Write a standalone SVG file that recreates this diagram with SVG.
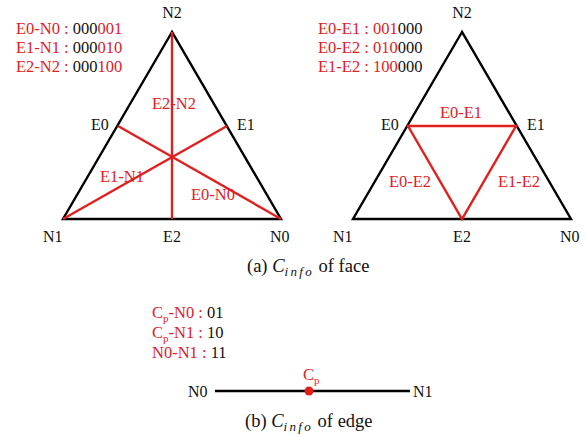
<svg xmlns="http://www.w3.org/2000/svg" width="587" height="435" viewBox="0 0 587 435" font-family="Liberation Serif, serif" font-size="16.5">
<style>
text{fill:#111}
.r{fill:#e0201f}
.k{fill:#111}
.m{text-anchor:middle}
.v{font-size:16px}
.cap{font-size:18.5px}
.tri{fill:none;stroke:#000;stroke-width:2.4;stroke-linejoin:miter}
.rl{stroke:#e0201f;stroke-width:2.4;fill:none}
.it{font-style:italic}
.sub{font-style:italic;font-size:13px;letter-spacing:2.3px}
</style>
<rect width="587" height="435" fill="#fff"/>
<g id="face-a">
  <polygon class="tri" points="172,32 63,219 281,219"/>
  <g id="connectors-a">
    <line class="rl" x1="172" y1="32" x2="172" y2="219"/>
    <line class="rl" x1="118" y1="126" x2="281" y2="219"/>
    <line class="rl" x1="227" y1="126" x2="63" y2="219"/>
  </g>
  <g id="labels-a">
    <text class="m v" x="172" y="18">N2</text>
    <text class="v" x="91" y="130">E0</text>
    <text class="v" x="237" y="130">E1</text>
    <text class="v" x="43" y="242">N1</text>
    <text class="m v" x="172" y="242">E2</text>
    <text class="v" x="270" y="242">N0</text>
    <text class="r m" x="174" y="109">E2-N2</text>
    <text class="r m" x="122" y="182">E1-N1</text>
    <text class="r m" x="213" y="200">E0-N0</text>
  </g>
  <g id="legend-a">
    <text x="16" y="34"><tspan class="r">E0-N0 : </tspan><tspan class="k">000</tspan><tspan class="r">001</tspan></text>
    <text x="16" y="53"><tspan class="r">E1-N1 : </tspan><tspan class="k">000</tspan><tspan class="r">010</tspan></text>
    <text x="16" y="72"><tspan class="r">E2-N2 : </tspan><tspan class="k">000</tspan><tspan class="r">100</tspan></text>
  </g>
</g>
<g id="face-b">
  <polygon class="tri" points="462,32 353,219 571,219"/>
  <g id="connectors-b">
    <polygon class="rl" points="408,126 516,126 462,219"/>
  </g>
  <g id="labels-b">
    <text class="m v" x="462" y="18">N2</text>
    <text class="v" x="381" y="130">E0</text>
    <text class="v" x="527" y="130">E1</text>
    <text class="v" x="333" y="242">N1</text>
    <text class="m v" x="462" y="242">E2</text>
    <text class="v" x="560" y="242">N0</text>
    <text class="r m" x="461" y="118">E0-E1</text>
    <text class="r m" x="410" y="187">E0-E2</text>
    <text class="r m" x="519" y="187">E1-E2</text>
  </g>
  <g id="legend-b">
    <text x="318" y="34"><tspan class="r">E0-E1 : 001</tspan><tspan class="k">000</tspan></text>
    <text x="318" y="53"><tspan class="r">E0-E2 : 010</tspan><tspan class="k">000</tspan></text>
    <text x="318" y="72"><tspan class="r">E1-E2 : 100</tspan><tspan class="k">000</tspan></text>
  </g>
</g>
<text id="caption-a" class="cap" x="247" y="272">(a) <tspan class="it">C</tspan><tspan class="sub" dy="4">info</tspan><tspan dy="-4"> of face</tspan></text>
<g id="edge">
  <g id="legend-edge">
    <text x="152" y="318"><tspan class="r">C</tspan><tspan class="r" font-size="11" dy="4">p</tspan><tspan class="r" dy="-4">-N0 : </tspan><tspan class="k">01</tspan></text>
    <text x="152" y="338"><tspan class="r">C</tspan><tspan class="r" font-size="11" dy="4">p</tspan><tspan class="r" dy="-4">-N1 : </tspan><tspan class="k">10</tspan></text>
    <text x="152" y="358"><tspan class="r">N0-N1 : </tspan><tspan class="k">11</tspan></text>
  </g>
  <g id="connectors-edge">
    <line x1="215" y1="391" x2="410" y2="391" stroke="#000" stroke-width="2.4"/>
  </g>
  <g id="node-N0"><text class="v" x="188" y="397">N0</text></g>
  <g id="node-N1"><text class="v" x="413" y="397">N1</text></g>
  <g id="node-Cp">
    <circle cx="309" cy="391" r="4.5" fill="#e0201f"/>
    <text class="r" x="303" y="380">C<tspan font-size="11" dy="4">p</tspan></text>
  </g>
</g>
<text id="caption-b" class="cap" x="245" y="427">(b) <tspan class="it">C</tspan><tspan class="sub" dy="4">info</tspan><tspan dy="-4"> of edge</tspan></text>
</svg>
